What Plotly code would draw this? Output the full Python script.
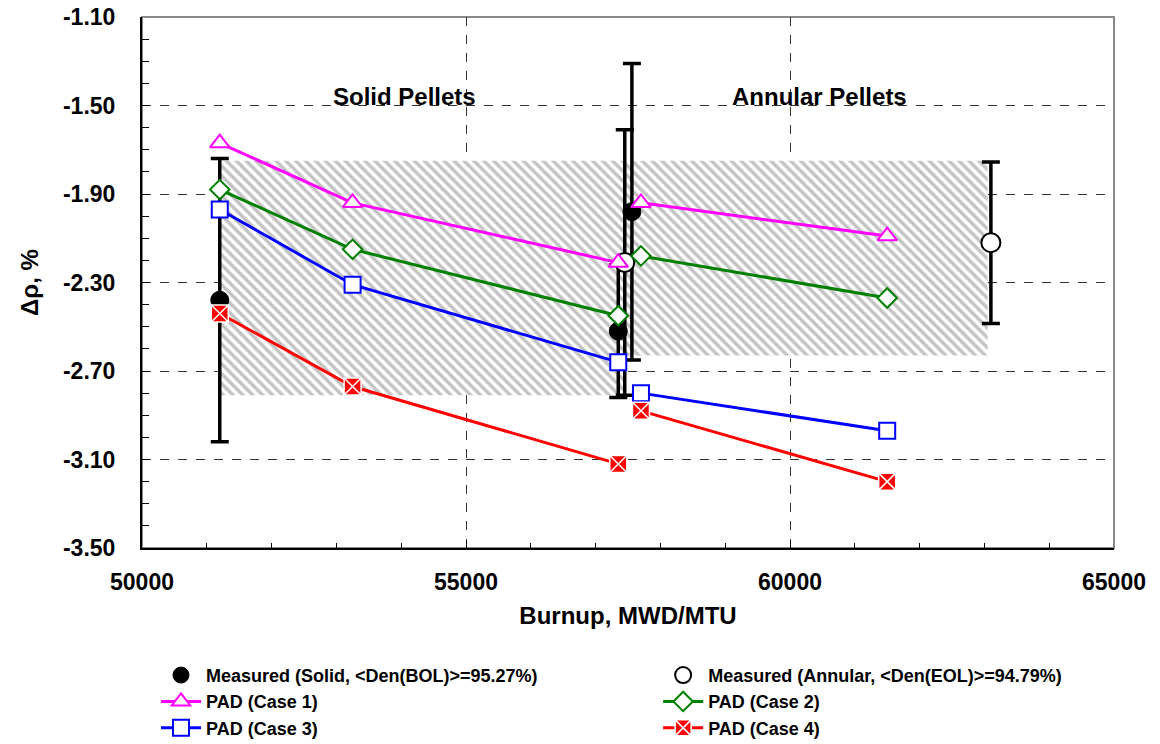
import plotly.graph_objects as go

# ---------------- data ----------------
case_solid_x = [51200, 53250, 57350]
case_annular_x = [57700, 61500]

case1_solid = [-1.67, -1.94, -2.21]
case1_annular = [-1.94, -2.09]
case2_solid = [-1.88, -2.15, -2.45]
case2_annular = [-2.18, -2.37]
case3_solid = [-1.97, -2.31, -2.66]
case3_annular = [-2.80, -2.97]
case4_solid = [-2.44, -2.77, -3.12]
case4_annular = [-2.88, -3.20]

meas_solid_x = [51200, 57350, 57560]
meas_solid_y = [-2.38, -2.52, -1.98]
meas_solid_err = [0.64, 0.30, 0.67]

meas_annular_x = [57450, 63100]
meas_annular_y = [-2.21, -2.12]
meas_annular_err = [0.60, 0.365]

# hatched uncertainty bands: [x0, x1, y_top, y_bottom]
band_solid = [51200, 57450, -1.75, -2.81]
band_annular = [57450, 63050, -1.75, -2.63]

region_labels = ["Solid Pellets", "Annular Pellets"]
region_label_x = [54050, 60450]
region_label_y = [-1.46, -1.46]

x_ticks = [50000, 55000, 60000, 65000]
y_ticks = [-1.10, -1.50, -1.90, -2.30, -2.70, -3.10, -3.50]

FONT = "Liberation Sans, Arial, sans-serif"

fig = go.Figure()

# hatched bands
for b in (band_solid, band_annular):
    x0, x1, yt, yb = b
    fig.add_trace(go.Scatter(
        x=[x0, x1, x1, x0, x0], y=[yt, yt, yb, yb, yt],
        mode="lines", line=dict(width=0), fill="toself",
        fillcolor="white",
        fillpattern=dict(shape="\\", fgcolor="#888888", bgcolor="white",
                         size=7, solidity=0.5),
        showlegend=False, hoverinfo="skip"))

def joined(a, b):
    return a + [None] + b

# measured
fig.add_trace(go.Scatter(
    x=meas_solid_x, y=meas_solid_y, mode="markers",
    name="Measured (Solid, &lt;Den(BOL)&gt;=95.27%)",
    marker=dict(symbol="circle", size=18, color="black",
                line=dict(color="black", width=1)),
    error_y=dict(type="data", array=meas_solid_err, color="black",
                 thickness=3.5, width=9),
    legend="legend"))
fig.add_trace(go.Scatter(
    x=meas_annular_x, y=meas_annular_y, mode="markers",
    name="Measured (Annular, &lt;Den(EOL)&gt;=94.79%)",
    marker=dict(symbol="circle", size=19, color="white",
                line=dict(color="black", width=2)),
    error_y=dict(type="data", array=meas_annular_err, color="black",
                 thickness=3.5, width=9),
    legend="legend2"))

cases = [
    ("PAD (Case 1)", case1_solid, case1_annular, "#FF00FF", "triangle-up", 17, "white", "legend"),
    ("PAD (Case 2)", case2_solid, case2_annular, "#008000", "diamond", 15, "white", "legend2"),
    ("PAD (Case 3)", case3_solid, case3_annular, "#0000FF", "square", 16, "white", "legend"),
    ("PAD (Case 4)", case4_solid, case4_annular, "#FF0000", "square-x", 17, "#FF0000", "legend2"),
]
for name, ys, ya, col, sym, sz, fillc, lg in cases:
    mline = dict(color=col, width=2)
    if sym == "square-x":
        mline = dict(color="white", width=1.5)
    fig.add_trace(go.Scatter(
        x=joined(case_solid_x, case_annular_x), y=joined(ys, ya),
        mode="lines+markers", name=name, connectgaps=False,
        line=dict(color=col, width=3),
        marker=dict(symbol=sym, size=sz, color=fillc, line=mline),
        legend=lg))

for t, x, y in zip(region_labels, region_label_x, region_label_y):
    fig.add_annotation(x=x, y=y, text=t, showarrow=False,
                       font=dict(family=FONT, size=24, color="black", weight="bold"))

# gray frame on top/right
fig.add_shape(type="rect", xref="paper", yref="paper", x0=0, x1=1, y0=0, y1=1,
              line=dict(color="#888888", width=2), layer="below")

tickfont = dict(family=FONT, size=23, color="black", weight="bold")
titlefont = dict(family=FONT, size=24, color="black", weight="bold")
fig.update_xaxes(
    range=[50000, 65000], tickvals=x_ticks, ticktext=[str(v) for v in x_ticks],
    ticks="inside", ticklen=7, tickwidth=1, tickcolor="black",
    minor=dict(ticks="inside", dtick=1000, ticklen=5, tickcolor="black", showgrid=False),
    showline=True, linecolor="black", linewidth=2,
    showgrid=True, gridcolor="#333333", griddash="dash", gridwidth=1,
    zeroline=False, tickfont=tickfont, ticklabelstandoff=12,
    title=dict(text="Burnup, MWD/MTU", font=titlefont, standoff=14))
fig.update_yaxes(
    range=[-3.5, -1.1], tickvals=y_ticks, ticktext=["%.2f" % v for v in y_ticks],
    ticks="inside", ticklen=7, tickwidth=1, tickcolor="black",
    minor=dict(ticks="inside", dtick=0.1, ticklen=7, tickcolor="black", showgrid=False),
    showline=True, linecolor="black", linewidth=2,
    showgrid=True, gridcolor="#333333", griddash="dash", gridwidth=1,
    zeroline=False, tickfont=tickfont, ticklabelstandoff=20,
    title=dict(text="Δρ, %", font=titlefont, standoff=18))

legfont = dict(family=FONT, size=18, color="black", weight="bold")
fig.update_layout(
    width=1160, height=744,
    margin=dict(l=142, r=46, t=17, b=196, autoexpand=False),
    paper_bgcolor="white", plot_bgcolor="white",
    font=dict(family=FONT, color="black"),
    legend=dict(x=0.0144, y=-0.205, xanchor="left", yanchor="top",
                orientation="v", font=legfont, bgcolor="rgba(0,0,0,0)",
                tracegroupgap=0, itemwidth=40),
    legend2=dict(x=0.531, y=-0.205, xanchor="left", yanchor="top",
                 orientation="v", font=legfont, bgcolor="rgba(0,0,0,0)",
                 tracegroupgap=0, itemwidth=40),
)

fig.write_html("out.html")
